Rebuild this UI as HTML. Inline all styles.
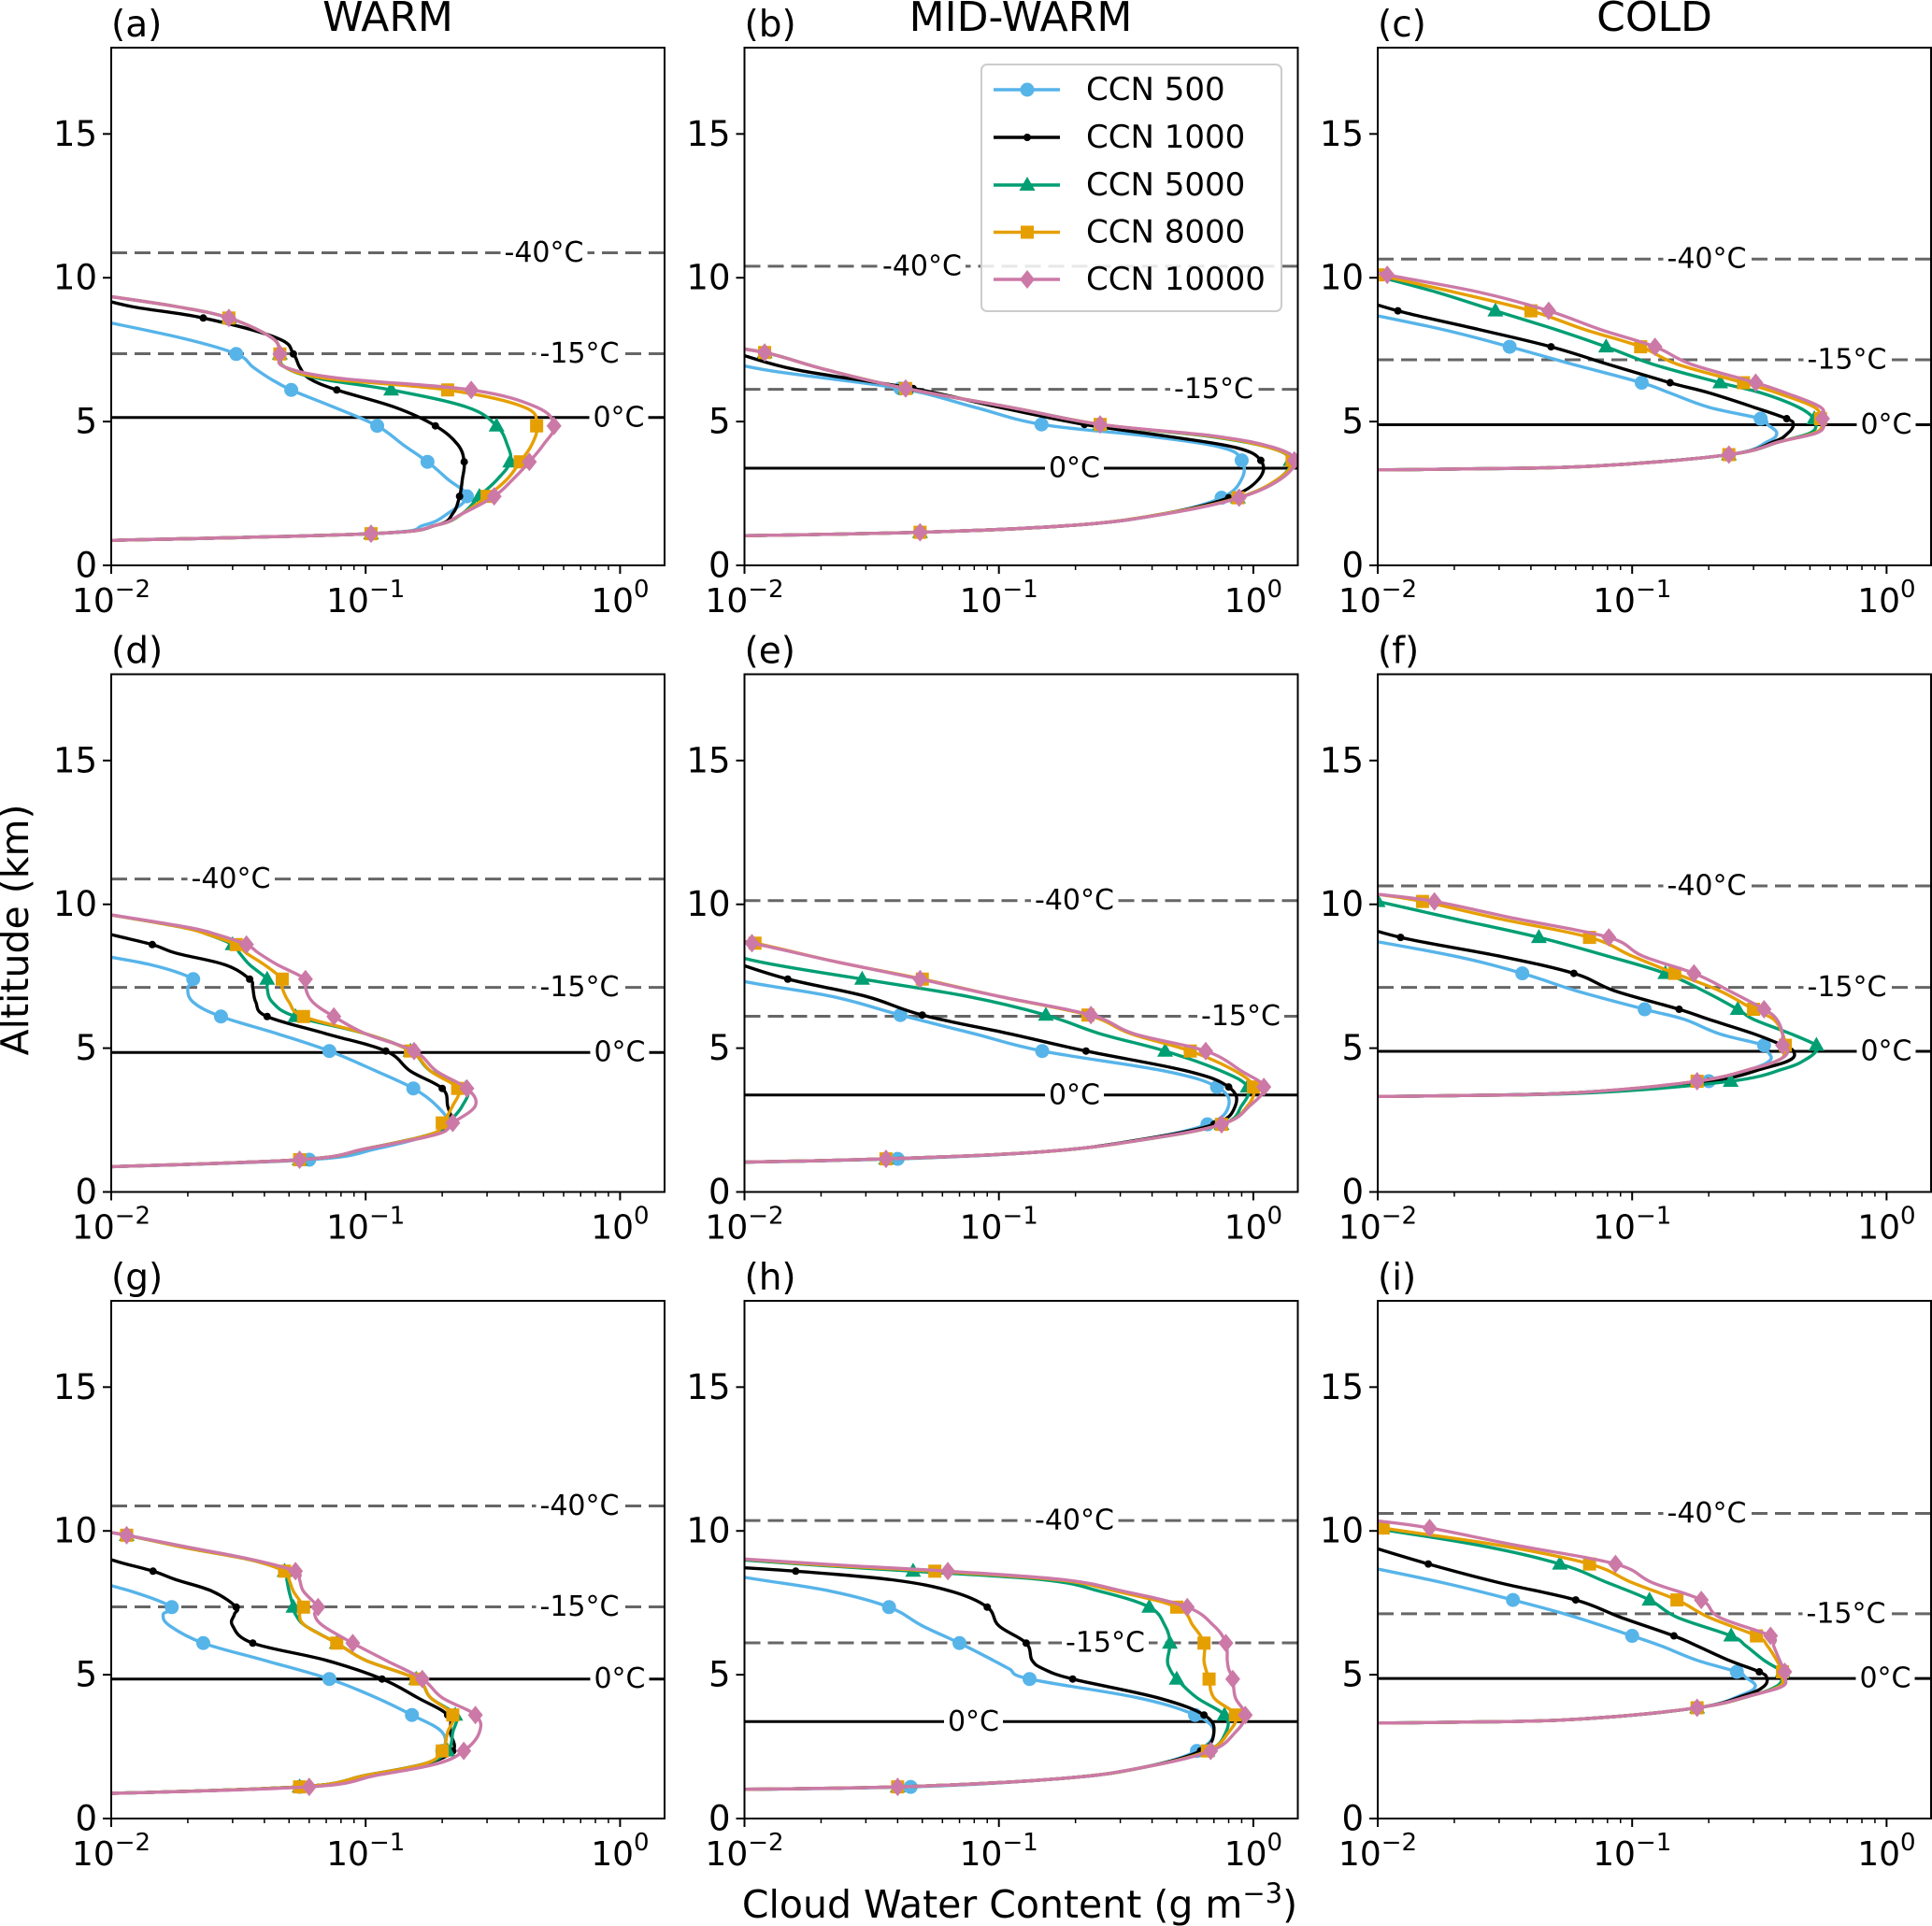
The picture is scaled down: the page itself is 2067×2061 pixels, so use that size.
<!DOCTYPE html>
<html><head><meta charset="utf-8"><style>
html,body{margin:0;padding:0;background:#fff;}
svg{display:block;font-family:"DejaVu Sans","Liberation Sans",sans-serif;}
</style></head><body>
<svg id="fig" xmlns="http://www.w3.org/2000/svg" width="2067" height="2061" viewBox="0 0 2067 2061">
<rect x="0" y="0" width="2067" height="2061" fill="#fff"/>
<text x="0" y="0" transform="translate(30,995) rotate(-90)" text-anchor="middle" font-size="41">Altitude (km)</text>
<text x="1091" y="2052" text-anchor="middle" font-size="41">Cloud Water Content (g m<tspan dy="-16" font-size="29">−3</tspan><tspan dy="16">)</tspan></text>
<text x="415" y="33" text-anchor="middle" font-size="44">WARM</text>
<text x="1092" y="33" text-anchor="middle" font-size="44">MID-WARM</text>
<text x="1770" y="33" text-anchor="middle" font-size="44">COLD</text>
</svg>
<script>
// ---------- data (altitude km, cloud water content g m^-3) ----------
const seriesNames = ["CCN 500","CCN 1000","CCN 5000","CCN 8000","CCN 10000"];

const altA = [0.85,1.1,1.4,1.8,2.4,3.0,3.6,4.2,4.85,5.5,6.1,6.5,6.9,7.35,7.9,8.6,9.0,9.4];
const markA = [1.1,2.4,3.6,4.85,6.1,7.35,8.6];
const a500 = [0.008,0.105,0.17,0.21,0.25,0.21,0.175,0.14,0.111,0.075,0.051,0.042,0.036,0.031,0.019,0.008,null,null];
const a1000 = [0.008,0.105,0.19,0.22,0.234,0.24,0.244,0.23,0.188,0.13,0.077,0.06,0.055,0.052,0.045,0.023,0.012,0.008];
const a5000 = [0.008,0.105,0.19,0.24,0.28,0.33,0.37,0.36,0.327,0.25,0.126,0.065,0.048,0.046,0.043,0.029,0.018,0.009];
const a8000 = [0.008,0.105,0.19,0.24,0.3,0.36,0.405,0.45,0.47,0.42,0.21,0.07,0.048,0.046,0.043,0.029,0.018,0.009];
const a10000 = [0.008,0.105,0.19,0.24,0.32,0.38,0.44,0.5,0.55,0.47,0.26,0.08,0.048,0.046,0.043,0.029,0.018,0.009];
const tempA = [5.14,7.36,10.87];

const altB = [1.0,1.15,1.4,1.8,2.35,3.0,3.65,4.1,4.5,4.9,5.5,6.15,6.8,7.4,7.7];
const markB = [1.15,2.35,3.65,4.9,6.15,7.4];
const b500 = [0.006,0.049,0.2,0.45,0.75,0.9,0.9,0.75,0.38,0.147,0.08,0.041,0.012,0.006,null];
const b1000 = [0.006,0.049,0.2,0.45,0.8,1.05,1.07,0.85,0.45,0.217,0.1,0.046,0.016,0.009,0.006];
const b5000 = [0.006,0.049,0.2,0.45,0.87,1.25,1.4,1.15,0.65,0.25,0.11,0.043,0.021,0.012,0.007];
const b8000 = [0.006,0.049,0.2,0.45,0.87,1.25,1.42,1.15,0.67,0.25,0.11,0.043,0.021,0.012,0.007];
const b10000 = [0.006,0.049,0.2,0.46,0.88,1.28,1.45,1.2,0.7,0.25,0.11,0.043,0.021,0.012,0.007];
const tempB = [3.38,6.12,10.4];

const altC = [3.3,3.35,3.45,3.85,4.3,4.6,4.9,5.1,5.5,6.0,6.35,7.0,7.6,8.2,8.85,9.5,10.1,10.4];
const markC = [3.85,5.1,6.35,7.6,8.85,10.1];
const c500 = [0.006,0.02,0.07,0.24,0.34,0.37,0.34,0.32,0.2,0.14,0.109,0.058,0.033,0.018,0.008,null,null,null];
const c1000 = [0.006,0.02,0.07,0.24,0.36,0.41,0.43,0.405,0.3,0.2,0.141,0.08,0.048,0.025,0.012,0.007,null,null];
const c5000 = [0.006,0.02,0.07,0.24,0.38,0.5,0.53,0.52,0.45,0.32,0.222,0.12,0.079,0.05,0.029,0.017,0.0095,null];
const c8000 = [0.006,0.02,0.07,0.24,0.38,0.52,0.56,0.55,0.52,0.37,0.274,0.15,0.108,0.065,0.04,0.02,0.01,0.007];
const c10000 = [0.006,0.02,0.07,0.24,0.38,0.53,0.57,0.56,0.55,0.4,0.306,0.17,0.123,0.075,0.047,0.025,0.0109,0.008];
const tempC = [4.89,7.15,10.65];

const altD = [0.85,1.12,1.5,2.0,2.4,3.0,3.6,4.2,4.9,5.5,6.1,6.6,7.1,7.4,7.9,8.3,8.6,8.95,9.2,9.7];
const markD = [1.12,2.4,3.6,4.9,6.1,7.4,8.6];
const d500 = [0.008,0.06,0.11,0.18,0.21,0.19,0.154,0.11,0.072,0.045,0.027,0.021,0.02,0.021,0.0143,0.008,null,null,null,null];
const d1000 = [0.008,0.055,0.1,0.18,0.215,0.21,0.2,0.15,0.12,0.07,0.041,0.037,0.036,0.035,0.028,0.018,0.0145,0.01,0.008,null];
const d5000 = [0.008,0.055,0.1,0.18,0.21,0.24,0.247,0.18,0.15,0.1,0.053,0.043,0.041,0.041,0.035,0.032,0.03,0.024,0.019,0.009];
const d8000 = [0.008,0.055,0.1,0.18,0.2,0.22,0.23,0.18,0.15,0.1,0.057,0.05,0.047,0.047,0.04,0.034,0.031,0.024,0.019,0.009];
const d10000 = [0.008,0.055,0.1,0.19,0.22,0.27,0.25,0.19,0.155,0.1,0.075,0.062,0.058,0.058,0.045,0.038,0.034,0.026,0.02,0.009];
const tempD = [4.85,7.11,10.88];

const altE = [1.0,1.15,1.4,1.8,2.35,3.0,3.65,4.2,4.9,5.5,6.15,6.8,7.4,8.0,8.65,8.8];
const markE = [1.15,2.35,3.65,4.9,6.15,7.4,8.65];
const e500 = [0.006,0.04,0.15,0.35,0.66,0.8,0.72,0.45,0.148,0.08,0.041,0.022,0.009,0.006,null,null];
const e1000 = [0.006,0.036,0.15,0.35,0.7,0.85,0.8,0.55,0.22,0.11,0.05,0.03,0.0148,0.009,null,null];
const e5000 = [0.006,0.036,0.15,0.36,0.75,0.9,0.95,0.75,0.45,0.25,0.153,0.075,0.029,0.0115,0.006,null];
const e8000 = [0.006,0.036,0.15,0.36,0.75,0.95,1.0,0.85,0.565,0.33,0.224,0.1,0.05,0.023,0.011,0.008];
const e10000 = [0.006,0.036,0.15,0.36,0.75,0.97,1.1,0.9,0.65,0.34,0.23,0.1,0.049,0.023,0.0107,0.008];
const tempE = [3.37,6.11,10.13];

const altF = [3.3,3.35,3.45,3.85,4.3,4.6,4.9,5.1,5.5,6.0,6.35,7.0,7.6,8.2,8.85,9.5,10.1,10.35];
const markF = [3.85,5.1,6.35,7.6,8.85,10.1];
const f500 = [0.006,0.02,0.06,0.2,0.3,0.35,0.34,0.33,0.22,0.16,0.112,0.06,0.037,0.02,0.008,null,null,null];
const f1000 = [0.006,0.02,0.06,0.2,0.33,0.42,0.43,0.39,0.3,0.2,0.153,0.085,0.059,0.03,0.0123,0.007,null,null];
const f5000 = [0.006,0.02,0.07,0.244,0.4,0.48,0.53,0.53,0.42,0.3,0.26,0.19,0.135,0.08,0.043,0.02,0.01,null];
const f8000 = [0.006,0.02,0.06,0.18,0.3,0.38,0.4,0.4,0.39,0.36,0.3,0.22,0.147,0.1,0.068,0.03,0.015,0.01];
const f10000 = [0.006,0.02,0.06,0.18,0.3,0.38,0.41,0.39,0.39,0.37,0.33,0.24,0.175,0.11,0.081,0.035,0.0167,0.01];
const tempF = [4.89,7.11,10.64];

const altG = [0.85,1.1,1.5,1.9,2.35,3.0,3.6,4.2,4.85,5.5,6.1,6.7,7.1,7.35,7.9,8.3,8.6,9.0,9.4,9.85,10.0];
const markG = [1.1,2.35,3.6,4.85,6.1,7.35,8.6,9.85];
const g500 = [0.008,0.055,0.1,0.17,0.2,0.2,0.152,0.11,0.072,0.04,0.023,0.017,0.016,0.0173,0.012,0.008,null,null,null,null,null];
const g1000 = [0.008,0.055,0.1,0.17,0.22,0.215,0.21,0.16,0.116,0.07,0.036,0.03,0.0305,0.031,0.025,0.018,0.0146,0.01,0.008,null,null];
const g5000 = [0.008,0.055,0.1,0.17,0.21,0.22,0.225,0.18,0.158,0.1,0.077,0.058,0.053,0.052,0.05,0.049,0.048,0.035,0.02,0.0115,0.009];
const g8000 = [0.008,0.055,0.1,0.17,0.2,0.21,0.22,0.18,0.158,0.1,0.077,0.058,0.055,0.057,0.052,0.05,0.048,0.035,0.02,0.0115,0.009];
const g10000 = [0.008,0.06,0.11,0.19,0.243,0.28,0.27,0.2,0.167,0.12,0.089,0.068,0.063,0.065,0.057,0.055,0.053,0.036,0.021,0.0115,0.009];
const tempG = [4.85,7.36,10.87];

const altH = [1.0,1.1,1.4,1.8,2.35,3.0,3.6,4.2,4.85,5.2,5.5,6.1,6.7,7.35,7.9,8.3,8.6,8.8,9.05];
const markH = [1.1,2.35,3.6,4.85,6.1,7.35,8.6];
const h500 = [0.006,0.045,0.18,0.38,0.6,0.7,0.59,0.35,0.132,0.11,0.095,0.07,0.05,0.037,0.022,0.0115,0.007,null,null];
const h1000 = [0.006,0.04,0.18,0.38,0.62,0.7,0.64,0.42,0.195,0.15,0.135,0.128,0.1,0.09,0.065,0.038,0.0159,0.007,null];
const h5000 = [0.006,0.04,0.18,0.38,0.66,0.78,0.77,0.6,0.5,0.47,0.46,0.47,0.45,0.39,0.25,0.15,0.046,0.02,0.008];
const h8000 = [0.006,0.04,0.18,0.38,0.66,0.8,0.85,0.7,0.67,0.65,0.64,0.64,0.58,0.5,0.29,0.17,0.056,0.022,0.009];
const h10000 = [0.006,0.04,0.18,0.38,0.68,0.85,0.93,0.85,0.83,0.8,0.79,0.78,0.7,0.55,0.31,0.18,0.063,0.025,0.009];
const tempH = [3.37,6.11,10.36];

const altI = [3.3,3.35,3.45,3.85,4.3,4.6,4.9,5.1,5.5,6.0,6.35,7.0,7.6,8.2,8.85,9.5,10.1,10.35];
const markI = [3.85,5.1,6.35,7.6,8.85,10.1];
const i500 = [0.006,0.02,0.06,0.18,0.27,0.305,0.28,0.258,0.18,0.13,0.1,0.06,0.034,0.018,0.008,null,null,null];
const i1000 = [0.006,0.02,0.06,0.18,0.28,0.33,0.338,0.316,0.24,0.18,0.146,0.09,0.06,0.03,0.0158,0.009,null,null];
const i5000 = [0.006,0.02,0.06,0.18,0.3,0.37,0.39,0.39,0.33,0.28,0.245,0.15,0.117,0.08,0.052,0.025,0.0095,null];
const i8000 = [0.006,0.02,0.06,0.18,0.3,0.38,0.39,0.39,0.37,0.34,0.308,0.2,0.15,0.1,0.068,0.03,0.0105,0.008];
const i10000 = [0.006,0.02,0.06,0.18,0.3,0.39,0.4,0.398,0.38,0.36,0.35,0.22,0.187,0.12,0.086,0.035,0.016,0.01];
const tempI = [4.87,7.12,10.61];

const yTicks = [0,5,10,15];
const xTickExps = [-2,-1,0];
const tempLabels = ["0°C","-15°C","-40°C"];

// ---------- layout ----------
const colors = ["#56B4E9","#000000","#009E73","#E69F00","#CC79A7"];
const markerTypes = ["circle","dot","triangle","square","diamond"];
const colLeft = [119, 796.5, 1474];
const rowTop = [51, 721.5, 1392];
const W = 592, H = 554, DEC = 272.2, YMAX = 18, XMIN = 0.01;
const panels = [
  {id:"a",col:0,row:0,alt:altA,mark:markA,s:[a500,a1000,a5000,a8000,a10000],temp:tempA,lab:[543,501,463]},
  {id:"b",col:1,row:0,alt:altB,mark:markB,s:[b500,b1000,b5000,b8000,b10000],temp:tempB,lab:[353,502,190]},
  {id:"c",col:2,row:0,alt:altC,mark:markC,s:[c500,c1000,c5000,c8000,c10000],temp:tempC,lab:[544,502,352]},
  {id:"d",col:0,row:1,alt:altD,mark:markD,s:[d500,d1000,d5000,d8000,d10000],temp:tempD,lab:[544,501,128]},
  {id:"e",col:1,row:1,alt:altE,mark:markE,s:[e500,e1000,e5000,e8000,e10000],temp:tempE,lab:[353,531,353]},
  {id:"f",col:2,row:1,alt:altF,mark:markF,s:[f500,f1000,f5000,f8000,f10000],temp:tempF,lab:[544,502,352]},
  {id:"g",col:0,row:2,alt:altG,mark:markG,s:[g500,g1000,g5000,g8000,g10000],temp:tempG,lab:[544,501,501]},
  {id:"h",col:1,row:2,alt:altH,mark:markH,s:[h500,h1000,h5000,h8000,h10000],temp:tempH,lab:[245,386,353]},
  {id:"i",col:2,row:2,alt:altI,mark:markI,s:[i500,i1000,i5000,i8000,i10000],temp:tempI,lab:[543,501,352]}
];

const NS = "http://www.w3.org/2000/svg";
const svg = document.getElementById("fig");
function mk(tag, attrs, parent){
  const e = document.createElementNS(NS, tag);
  for (const k in attrs) e.setAttribute(k, attrs[k]);
  (parent||svg).appendChild(e);
  return e;
}
function xScale(left, v){ return left + (Math.log10(v) - Math.log10(XMIN)) * DEC; }
function yScale(top, a){ return top + H - a * H / YMAX; }

function markerEl(type, cx, cy, color, parent){
  let e;
  if (type==="circle") e = mk("circle",{cx:cx,cy:cy,r:7.5,fill:color},parent);
  else if (type==="dot") e = mk("circle",{cx:cx,cy:cy,r:4,fill:color},parent);
  else if (type==="triangle") e = mk("polygon",{points:`${cx},${cy-9} ${cx-8.5},${cy+6} ${cx+8.5},${cy+6}`,fill:color},parent);
  else if (type==="square") e = mk("rect",{x:cx-7,y:cy-7,width:14,height:14,fill:color},parent);
  else e = mk("polygon",{points:`${cx},${cy-10} ${cx+8},${cy} ${cx},${cy+10} ${cx-8},${cy}`,fill:color},parent);
  return e;
}

function smoothPath(pts){
  if (pts.length<2) return "";
  let d = `M${pts[0][0].toFixed(1)},${pts[0][1].toFixed(1)}`;
  for (let i=0;i<pts.length-1;i++){
    const p0 = pts[Math.max(0,i-1)], p1 = pts[i], p2 = pts[i+1], p3 = pts[Math.min(pts.length-1,i+2)];
    const t = 0.18;
    const c1 = [p1[0]+(p2[0]-p0[0])*t, p1[1]+(p2[1]-p0[1])*t];
    const c2 = [p2[0]-(p3[0]-p1[0])*t, p2[1]-(p3[1]-p1[1])*t];
    d += ` C${c1[0].toFixed(1)},${c1[1].toFixed(1)} ${c2[0].toFixed(1)},${c2[1].toFixed(1)} ${p2[0].toFixed(1)},${p2[1].toFixed(1)}`;
  }
  return d;
}

panels.forEach(p => {
  const L = colLeft[p.col], T = rowTop[p.row];
  const g = mk("g",{});
  
  
  const cp = mk("clipPath",{id:"clip-"+p.id}, g);
  mk("rect",{x:L,y:T,width:W,height:H},cp);
  const plot = mk("g",{"clip-path":`url(#clip-${p.id})`}, g);

  p.temp.forEach((lvl, k) => {
    const y = yScale(T, lvl);
    const ln = mk("line",{x1:L,x2:L+W,y1:y,y2:y,stroke:k===0?"#000":"#666","stroke-width":3,"stroke-dasharray":k===0?"none":"17,8"}, plot);
    
    
  });

  p.s.forEach((vals, si) => {
    const pts = [];
    const mpts = [];
    vals.forEach((v, j) => {
      if (v===null) return;
      const a = p.alt[j];
      const px = xScale(L, v), py = yScale(T, a);
      pts.push([px, py]);
      if (p.mark.indexOf(a) >= 0 && v >= XMIN) mpts.push([px, py]);
    });
    const path = mk("path",{d:smoothPath(pts),fill:"none",stroke:colors[si],"stroke-width":3.4,"stroke-linejoin":"round"}, plot);
    
    
    mpts.forEach(m => {
      const me = markerEl(markerTypes[si], m[0], m[1], colors[si], plot);
      
      
    });
  });

  p.temp.forEach((lvl, k) => {
    const y = yScale(T, lvl);
    const cx = L + p.lab[k];
    const bg = mk("rect",{x:cx-40,y:y-14,width:80,height:28,fill:"#fff"}, g);
    const t = mk("text",{x:cx,y:y,"text-anchor":"middle","dominant-baseline":"central","font-size":30,fill:"#000"}, g);
    t.textContent = tempLabels[k];
    
    
    const w = t.getComputedTextLength ? t.getComputedTextLength() : 70;
    bg.setAttribute("x", cx - w/2 - 4);
    bg.setAttribute("width", w + 8);
  });

  const fr = mk("rect",{x:L,y:T,width:W,height:H,fill:"none",stroke:"#000","stroke-width":2}, g);
  
  

  yTicks.forEach(v => {
    const y = yScale(T, v);
    mk("line",{x1:L-9,x2:L,y1:y,y2:y,stroke:"#000","stroke-width":2}, g);
    const t = mk("text",{x:L-15,y:y,"text-anchor":"end","dominant-baseline":"central","font-size":37}, g);
    t.textContent = String(v);
    
    
  });
  xTickExps.forEach(ex => {
    const x = xScale(L, Math.pow(10, ex));
    mk("line",{x1:x,x2:x,y1:T+H,y2:T+H+9,stroke:"#000","stroke-width":2}, g);
    const t = mk("text",{x:x,y:T+H+50,"text-anchor":"middle","font-size":36}, g);
    
    
    const s1 = mk("tspan",{},t); s1.textContent = "10";
    const s2 = mk("tspan",{dy:-16,"font-size":26},t); s2.textContent = ex===0 ? "0" : "−" + (-ex);
    if (ex < 0) {
      for (let m = 2; m <= 9; m++) {
        const xm = xScale(L, m * Math.pow(10, ex));
        mk("line",{x1:xm,x2:xm,y1:T+H,y2:T+H+5,stroke:"#000","stroke-width":1.5}, g);
      }
    }
  });

  const pl = mk("text",{x:L,y:T-12,"font-size":39}, g);
  pl.textContent = "(" + p.id + ")";
  
  
});

(function(){
  const lg = mk("g",{});
  
  
  mk("rect",{x:1050,y:69,width:321,height:264,rx:6,fill:"#fff","fill-opacity":0.85,stroke:"#ccc","stroke-width":2}, lg);
  const rows = [96,147,198,248.5,299];
  seriesNames.forEach((n, i) => {
    const e = mk("g",{}, lg);
    
    
    mk("line",{x1:1063,x2:1134,y1:rows[i],y2:rows[i],stroke:colors[i],"stroke-width":3.4}, e);
    markerEl(markerTypes[i], 1099, rows[i], colors[i], e);
    const t = mk("text",{x:1162,y:rows[i],"dominant-baseline":"central","font-size":34}, e);
    t.textContent = n;
  });
})();
</script>
</body></html>
